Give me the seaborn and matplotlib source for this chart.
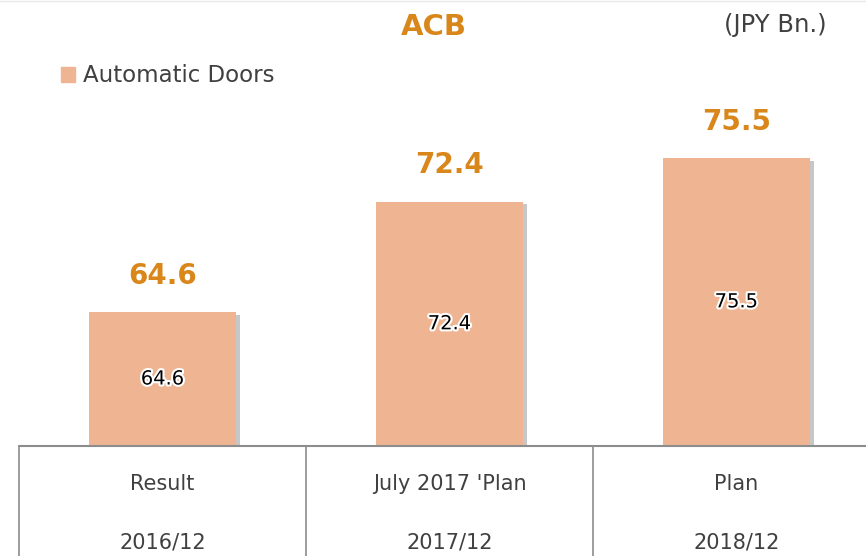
import matplotlib
matplotlib.use("Agg")
import matplotlib.pyplot as plt
import matplotlib.patheffects as pe
from matplotlib.lines import Line2D
import seaborn as sns
import pandas as pd

# ---- data ----
categories = ["Result", "July 2017 'Plan", "Plan"]
periods = ["2016/12", "2017/12", "2018/12"]
values = [64.6, 72.4, 75.5]
series_name = "Automatic Doors"
title = "ACB"
unit = "(JPY Bn.)"

BAR = "#EFB593"
ORANGE = "#D9861A"
GRAY = "#404040"
LINE = "#8C8C8C"

df = pd.DataFrame({"category": categories, "value": values, "series": [series_name] * len(values)})

sns.set_theme(style="white")
plt.rcParams["font.family"] = ["DejaVu Sans"]

fig = plt.figure(figsize=(8.66, 5.56), dpi=100)
W, H = 866, 556
base_px = 446
left_px, right_px = 19, 880
ax = fig.add_axes([left_px / W, (H - base_px) / H, (right_px - left_px) / W, base_px / H])

sns.barplot(data=df, x="category", y="value", hue="series", palette=[BAR],
            width=0.51, ax=ax, saturation=1, legend=True)

ax.set_ylim(55.13, 86.65)
ax.set_xlim(-0.5, len(categories) - 0.5)
for s in ax.spines.values():
    s.set_visible(False)
ax.set_xticks([])
ax.set_yticks([])
ax.set_xlabel("")
ax.set_ylabel("")

for bar in ax.patches:
    bar.set_edgecolor("none")
    bar.set_path_effects([pe.SimplePatchShadow(offset=(3, -2), shadow_rgbFace="#909090", alpha=0.5),
                          pe.Normal()])

cont = ax.containers[0]
inner = ax.bar_label(cont, labels=[f"{v:.1f}" for v in values], label_type="center",
                     fontsize=14, color="black")
for t in inner:
    t.set_path_effects([pe.withStroke(linewidth=3, foreground="white")])
ax.bar_label(cont, labels=[f"{v:.1f}" for v in values], padding=16,
             fontsize=20, fontweight="bold", color=ORANGE)

# legend
leg = ax.get_legend()
handles = [plt.Rectangle((0, 0), 1, 1, color=BAR)]
leg.remove()
fig.legend(handles, [series_name], loc="center left", bbox_to_anchor=(40 / W, 1 - 76 / H),
           frameon=False, fontsize=16.5, handlelength=0.62, handleheight=0.62,
           handletextpad=0.35, labelcolor=GRAY)

# title & unit
fig.text(434 / W, 1 - 27 / H, title, ha="center", va="center", fontsize=21,
         fontweight="bold", color=ORANGE)
fig.text(775 / W, 1 - 25 / H, unit, ha="center", va="center", fontsize=17.5, color=GRAY)

# table under the axis
trans = ax.get_xaxis_transform()
bottom_frac = -(H - base_px) / base_px
ax.add_line(Line2D([-0.5, len(categories) - 0.5], [0, 0], transform=trans, color=LINE,
                   lw=1.5, clip_on=False))
for i in range(len(categories)):
    ax.add_line(Line2D([i - 0.5, i - 0.5], [0, bottom_frac], transform=trans, color=LINE,
                       lw=1.2, clip_on=False))
for i, (c, p) in enumerate(zip(categories, periods)):
    ax.text(i, -(484 - base_px) / base_px, c, transform=trans, ha="center", va="center",
            fontsize=15, color=GRAY)
    ax.text(i, -(542 - base_px) / base_px, p, transform=trans, ha="center", va="center",
            fontsize=15, color=GRAY)

fig.add_artist(Line2D([0, 1], [0.999, 0.999], transform=fig.transFigure, color="#E8E8E8", lw=1))

fig.savefig("out.png", dpi=100)
